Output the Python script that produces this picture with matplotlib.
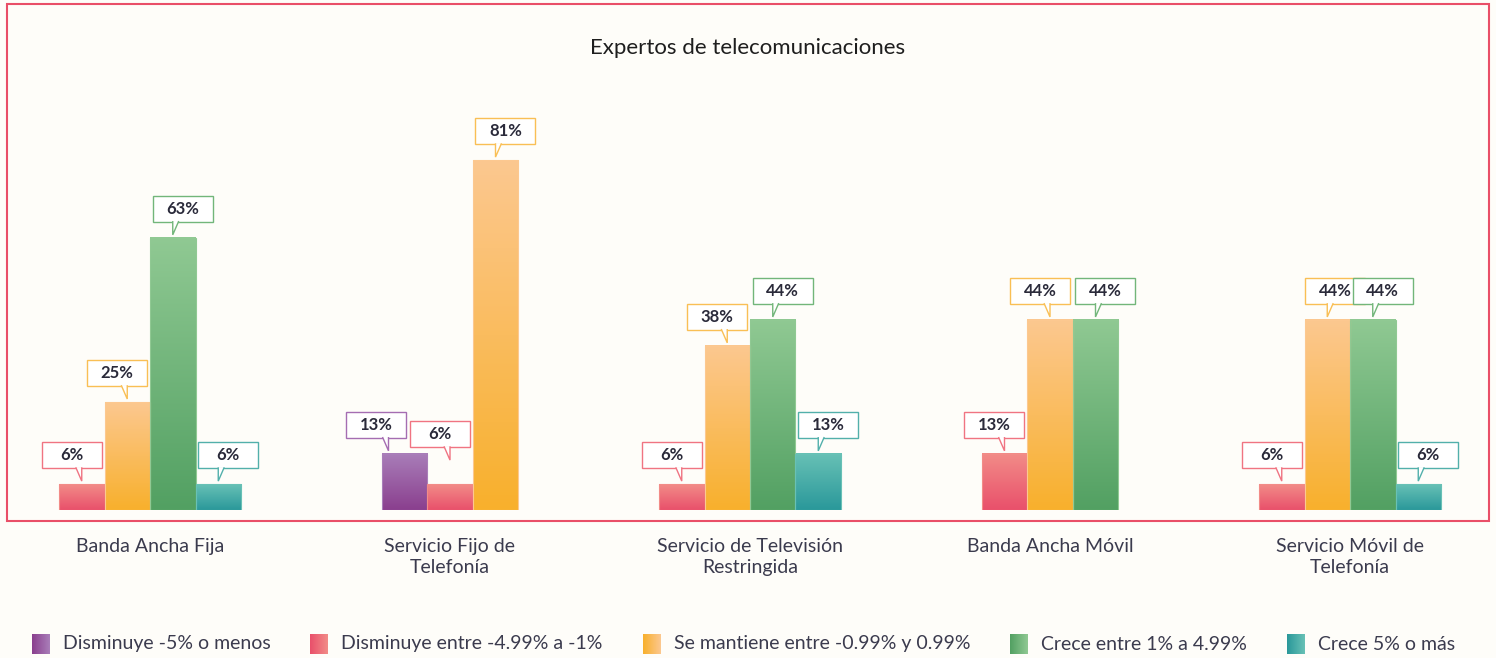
import numpy as np
import matplotlib
matplotlib.use("Agg")
import matplotlib.pyplot as plt
from matplotlib.colors import LinearSegmentedColormap
from matplotlib.patches import Rectangle, Polygon

plt.rcParams['font.family'] = ['Lato', 'DejaVu Sans']

# ---------------- data ----------------
categories = ["Banda Ancha Fija", "Servicio Fijo de\nTelefonía",
              "Servicio de Televisión\nRestringida", "Banda Ancha Móvil",
              "Servicio Móvil de\nTelefonía"]
series_names = ["Disminuye -5% o menos", "Disminuye entre -4.99% a -1%",
                "Se mantiene entre -0.99% y 0.99%", "Crece entre 1% a 4.99%",
                "Crece 5% o más"]
disminuye_5 = [0, 13, 0, 0, 0]
disminuye_499 = [6, 6, 6, 13, 6]
se_mantiene = [25, 81, 38, 44, 44]
crece_1 = [63, 0, 44, 44, 44]
crece_5 = [6, 0, 13, 0, 6]
series_values = [disminuye_5, disminuye_499, se_mantiene, crece_1, crece_5]
title = "Expertos de telecomunicaciones"

# ---------------- style ----------------
BG = "#fefdf9"
grad_dark = ["#8a3f8e", "#e9506b", "#f8b02c", "#52a062", "#2a989a"]
grad_light = ["#a97eb9", "#f28c88", "#fcc890", "#90c993", "#68c1b6"]
box_edge = ["#a56db2", "#f07482", "#f9bf55", "#72b67a", "#52b0ab"]
TXT = "#2a2a3a"

W, H = 1496, 658
fig = plt.figure(figsize=(W / 100, H / 100), dpi=100, facecolor=BG)
ax = fig.add_axes([0, 148 / H, 1500 / W, 432 / H])
ax.set_facecolor("none")
ax.axis("off")

bw = 45.5 / 300
cmaps = [LinearSegmentedColormap.from_list(f"c{i}", [grad_dark[i], grad_light[i]])
         for i in range(5)]
vgrad = np.linspace(0, 1, 256).reshape(-1, 1)

bars = []  # (cat, series, x, value, index_in_group, n_in_group)
for ci in range(len(categories)):
    present = [si for si in range(5) if series_values[si][ci] > 0]
    n = len(present)
    for k, si in enumerate(present):
        x = ci + (k - (n - 1) / 2) * bw
        v = series_values[si][ci]
        ax.bar(x, v, width=bw, color="none", edgecolor=grad_light[si],
               linewidth=0.8, zorder=3)
        ax.imshow(vgrad, extent=[x - bw / 2, x + bw / 2, 0, v], origin="lower",
                  aspect="auto", cmap=cmaps[si], zorder=2)
        bars.append((ci, si, x, v, k, n))

ax.set_xlim(-0.5, len(categories) - 0.5)
ax.set_ylim(0, 100)

# overlay in pixel coordinates
ov = fig.add_axes([0, 0, 1, 1])
ov.set_xlim(0, W)
ov.set_ylim(0, H)
ov.axis("off")
ov.patch.set_alpha(0)

# frame
ov.add_patch(Rectangle((7, H - 521), 1482, 517, fill=False,
                       edgecolor="#e94f68", linewidth=1.5, zorder=1))

ov.text(748, H - 48, title, ha="center", va="center", fontsize=16,
        color="#1e1e1e")

fig.canvas.draw()
# category labels
for ci, lab in enumerate(categories):
    px = ax.transData.transform((ci, 0))[0]
    ov.text(px, H - 538, lab, ha="center", va="top", fontsize=14,
            linespacing=1.28, color="#3b3b4e")

# callout labels
box_w, box_h = 60, 26
box_dx_override = {(1, 0): -28, (4, 2): 8}
tip_dx_override = {(1, 0): -16}
dy_override = {(1, 1): 21}
for ci, si, x, v, k, n in bars:
    px, py = ax.transData.transform((x, v))
    default = -10 if k <= (n - 1) / 2 else 10
    bdx = box_dx_override.get((ci, si), default)
    tdx = tip_dx_override.get((ci, si), 0)
    dy = dy_override.get((ci, si), 0)
    tipx = px + tdx
    tipy = py + 3 + dy
    bottom = py + 16 + dy
    cx = px + bdx
    ov.add_patch(Rectangle((cx - box_w / 2, bottom), box_w, box_h,
                           facecolor="white", edgecolor=box_edge[si],
                           linewidth=1.0, zorder=5))
    s = -1 if cx < tipx else 1
    poly = Polygon([(tipx, bottom + 0.8), (tipx, tipy), (tipx + 6 * s, bottom + 0.8)],
                   closed=False, facecolor="white", edgecolor=box_edge[si],
                   linewidth=1.0, zorder=6)
    ov.add_patch(poly)
    ov.text(cx, bottom + box_h / 2, f"{v}%", ha="center", va="center",
            fontsize=12, fontweight="bold", color=TXT, zorder=7)

# legend
renderer = fig.canvas.get_renderer()
yc = H - 644
mw, mh, gap_mt, gap_items = 18, 20, 13, 40
texts = []
widths = []
for si, name in enumerate(series_names):
    t = ov.text(0, yc, name, ha="left", va="center", fontsize=14, color="#3b3b4e")
    texts.append(t)
    bb = t.get_window_extent(renderer=renderer)
    widths.append(bb.width)
total = sum(mw + gap_mt + w for w in widths) + gap_items * (len(widths) - 1)
x0 = 743.5 - total / 2
hgrad = np.linspace(0, 1, 64).reshape(1, -1)
for si, (t, w) in enumerate(zip(texts, widths)):
    ov.imshow(hgrad, extent=[x0, x0 + mw, yc - mh / 2, yc + mh / 2],
              aspect="auto", cmap=cmaps[si], zorder=3)
    t.set_position((x0 + mw + gap_mt, yc))
    x0 += mw + gap_mt + w + gap_items

ov.set_xlim(0, W)
ov.set_ylim(0, H)

fig.savefig("out.png", dpi=100, facecolor=BG)
